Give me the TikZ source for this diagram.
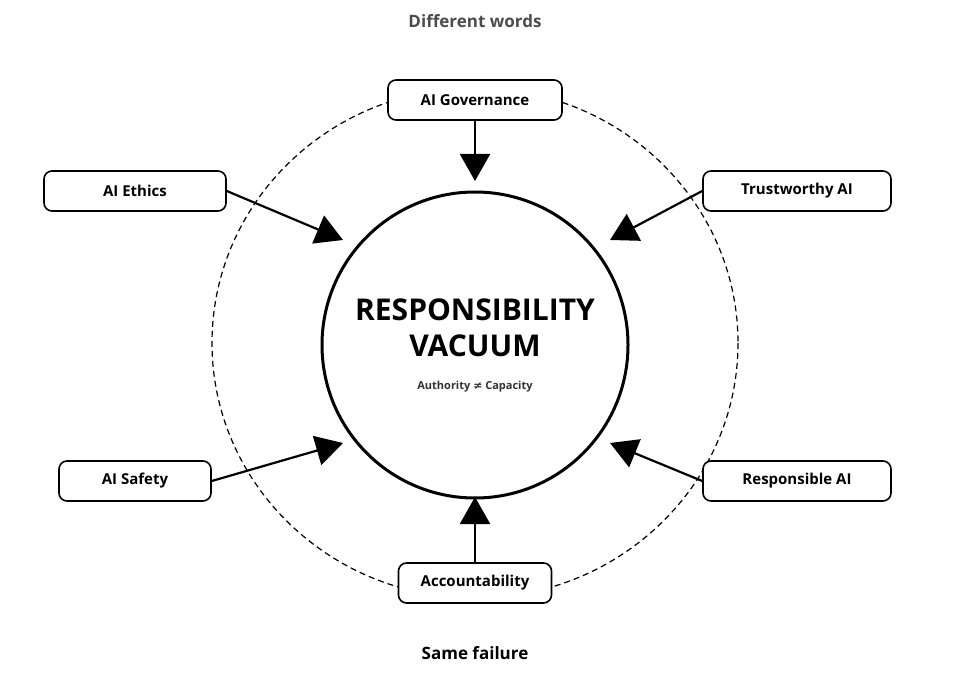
\documentclass[tikz,border=0pt]{standalone}
\usepackage{fontspec}
\setmainfont{Open Sans}
\newfontfamily\djv{DejaVu Sans}
\usetikzlibrary{arrows.meta}
\begin{document}
\begin{tikzpicture}[x=1pt,y=-1pt,
  lbl/.style={draw=black,line width=1.6pt,rounded corners=8pt,fill=white,minimum height=40pt,font=\fontsize{15}{18}\selectfont\bfseries,inner sep=0pt},
  arr/.style={line width=2.2pt,-{Triangle[length=27pt,width=30pt]}}]
\useasboundingbox (0,0) rectangle (980,679);
\draw[dash pattern=on 6pt off 4pt,line width=1.2pt] (475,343) ellipse [x radius=263, y radius=255];
\node[draw,circle,line width=3pt,minimum size=306pt,fill=white] (c) at (475,345) {};
\node[font=\fontsize{30}{36}\selectfont\bfseries,align=center] (t) at (475,328) {RESPONSIBILITY\\VACUUM};
\node[font=\fontsize{11}{13}\selectfont\bfseries,text=black!80] (s) at (475,387) {Authority {\djv ≠} Capacity};
\node[lbl,minimum width=174pt] (g) at (475,100) {AI Governance};
\node[lbl,minimum width=182pt] (e) at (135,191) {AI Ethics};
\node[lbl,minimum width=188pt] (tw) at (797,191) {Trustworthy AI};
\node[lbl,minimum width=152pt] (sa) at (135,481) {AI Safety};
\node[lbl,minimum width=188pt] (r) at (797,481) {Responsible AI};
\node[lbl,minimum width=153pt] (a) at (475,583) {Accountability};
\coordinate (pg) at (475,181);
\coordinate (pe) at (343,240);
\coordinate (pt) at (610,240);
\coordinate (ps) at (343,443);
\coordinate (pr) at (610,443);
\coordinate (pa) at (475,497);
\draw[arr] (g.south) -- (pg);
\draw[arr] (e.east) -- (pe);
\draw[arr] (tw.west) -- (pt);
\draw[arr] (sa.east) -- (ps);
\draw[arr] (r.west) -- (pr);
\draw[arr] (a.north) -- (pa);
\node[font=\fontsize{17}{20}\selectfont\bfseries,text=black!70] (dw) at (475,21) {Different words};
\node[font=\fontsize{17}{20}\selectfont\bfseries] (sf) at (475,653) {Same failure};
\end{tikzpicture}
\end{document}
